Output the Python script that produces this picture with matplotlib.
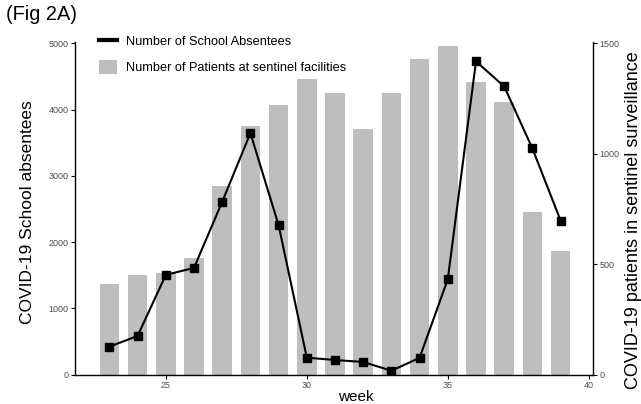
import matplotlib
matplotlib.use("Agg")
import matplotlib.pyplot as plt
from matplotlib.lines import Line2D
from matplotlib.patches import Patch

plt.rcParams['font.family'] = ['Liberation Sans', 'DejaVu Sans']

weeks = [23, 24, 25, 26, 27, 28, 29, 30, 31, 32, 33, 34, 35, 36, 37, 38, 39]
# school absentees (left axis)
absentees = [423, 585, 1506, 1612, 2609, 3645, 2257, 257, 222, 192, 60, 255,
             1441, 4728, 4350, 3414, 2326]
# patients at sentinel facilities (right axis)
patients = [411, 452, 459, 527, 856, 1126, 1220, 1338, 1274, 1114, 1274, 1430,
            1489, 1327, 1236, 737, 562]
x_ticks = [25, 30, 35, 40]
left_ticks = [0, 1000, 2000, 3000, 4000, 5000]
right_ticks = [0, 500, 1000, 1500]

tick_grey = '#4D4D4D'

fig = plt.figure(figsize=(6.41, 4.04), dpi=100)
ax = fig.add_axes([0.117, 0.0725, 0.8086, 0.8235])
ax2 = ax.twinx()

# bars behind, line on top
ax.set_zorder(ax2.get_zorder() + 1)
ax.patch.set_visible(False)

ax2.bar(weeks, patients, width=0.7, color='#BEBEBE')
ax.plot(weeks, absentees, color='black', lw=1.5, marker='s', ms=6,
        markerfacecolor='black', markeredgecolor='black')

ax.set_xlim(21.78, 40.16)
ax.set_ylim(0, 5020)
ax2.set_ylim(0, 1506)

ax.set_xticks(x_ticks)
ax.set_yticks(left_ticks)
ax2.set_yticks(right_ticks)

for a in (ax, ax2):
    a.spines['top'].set_visible(False)
    for s in a.spines.values():
        s.set_linewidth(1.0)
    a.tick_params(length=3, width=0.8, pad=1.5, labelsize=6.5,
                  labelcolor=tick_grey)
ax.spines['right'].set_visible(False)
ax2.spines['left'].set_visible(False)
ax2.spines['bottom'].set_visible(False)

ax.set_xlabel('week', fontsize=11)
ax.xaxis.set_label_coords(0.541, -0.046)
ax.set_ylabel('COVID-19 School absentees', fontsize=12.5)
ax.yaxis.set_label_coords(-0.077, 0.489)
ax2.set_ylabel('COVID-19 patients in sentinel surveillance', fontsize=13,
               rotation=90)
ax2.yaxis.set_label_coords(1.062, 0.465)

handles = [Line2D([0], [0], color='black', lw=3),
           Patch(facecolor='#BEBEBE', edgecolor='none')]
labels = ['Number of School Absentees',
          'Number of Patients at sentinel facilities']
ax.legend(handles, labels, loc='upper left', bbox_to_anchor=(0.0463, 1.025),
          frameon=False, fontsize=9.2, handlelength=1.4, handleheight=1.4,
          handletextpad=0.7, labelspacing=0.88, borderpad=0, borderaxespad=0)

fig.text(6 / 641, 1 - 5 / 404, '(Fig 2A)', fontsize=14.4, ha='left', va='top')

fig.savefig('out.png', dpi=100)
